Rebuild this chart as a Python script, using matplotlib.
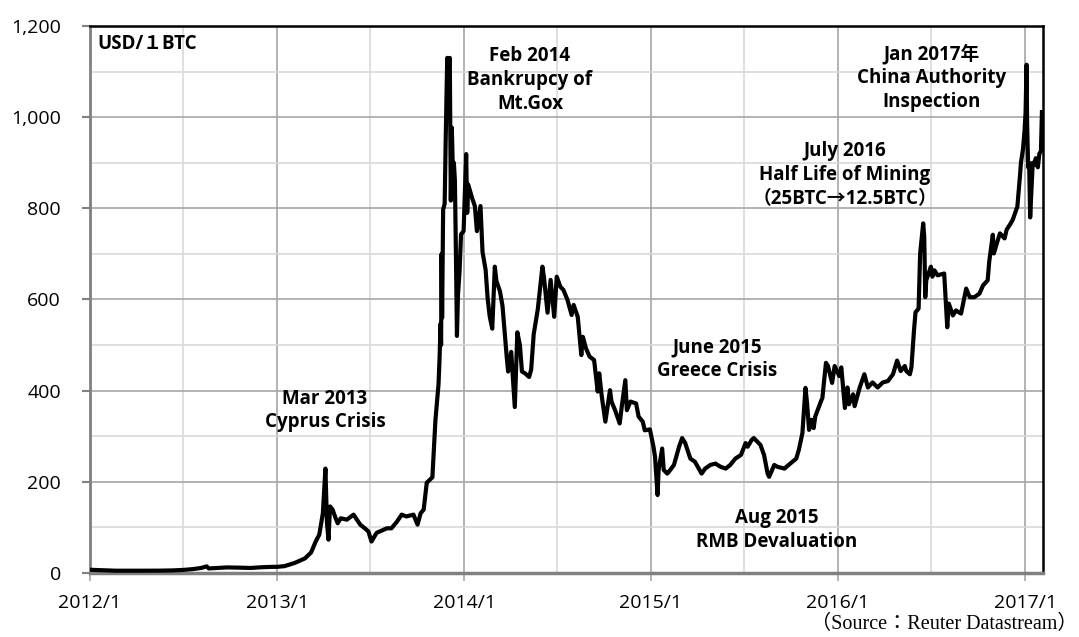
import numpy as np
import pandas as pd
import matplotlib
matplotlib.use('Agg')
import matplotlib.pyplot as plt
import matplotlib.dates as mdates
from matplotlib.ticker import MultipleLocator, FuncFormatter

# BTC price (USD)
dates = [
    '2012-01-01', '2012-01-15', '2012-02-01', '2012-02-20', '2012-03-15', '2012-04-15',
    '2012-05-15', '2012-06-10', '2012-07-01', '2012-07-20', '2012-08-05', '2012-08-16',
    '2012-08-20', '2012-09-05', '2012-09-25', '2012-10-15', '2012-11-10', '2012-11-30',
    '2012-12-20', '2013-01-01', '2013-01-15', '2013-02-04', '2013-02-24', '2013-03-08',
    '2013-03-17', '2013-03-24', '2013-03-31', '2013-04-03', '2013-04-05', '2013-04-08',
    '2013-04-11', '2013-04-14', '2013-04-19', '2013-04-25', '2013-04-29', '2013-05-05',
    '2013-05-17', '2013-05-30', '2013-06-12', '2013-06-21', '2013-06-28', '2013-07-04',
    '2013-07-14', '2013-07-20', '2013-08-03', '2013-08-12', '2013-08-23', '2013-09-01',
    '2013-09-10', '2013-09-24', '2013-10-02', '2013-10-08', '2013-10-14', '2013-10-20',
    '2013-10-31', '2013-11-06', '2013-11-12', '2013-11-14', '2013-11-16', '2013-11-17',
    '2013-11-18', '2013-11-19', '2013-11-21', '2013-11-24', '2013-11-26', '2013-11-29',
    '2013-12-01', '2013-12-04', '2013-12-06', '2013-12-08', '2013-12-10', '2013-12-12',
    '2013-12-14', '2013-12-16', '2013-12-18', '2013-12-20', '2013-12-23', '2013-12-26',
    '2013-12-31', '2014-01-05', '2014-01-07', '2014-01-09', '2014-01-17', '2014-01-22',
    '2014-01-26', '2014-02-02', '2014-02-06', '2014-02-12', '2014-02-16', '2014-02-20',
    '2014-02-25', '2014-03-02', '2014-03-05', '2014-03-12', '2014-03-17', '2014-03-25',
    '2014-03-28', '2014-04-03', '2014-04-10', '2014-04-15', '2014-04-20', '2014-04-24',
    '2014-04-30', '2014-05-08', '2014-05-12', '2014-05-17', '2014-05-25', '2014-06-03',
    '2014-06-06', '2014-06-13', '2014-06-19', '2014-06-26', '2014-07-01', '2014-07-08',
    '2014-07-14', '2014-07-22', '2014-07-30', '2014-08-03', '2014-08-11', '2014-08-18',
    '2014-08-21', '2014-08-27', '2014-09-03', '2014-09-12', '2014-09-19', '2014-09-22',
    '2014-09-27', '2014-10-04', '2014-10-13', '2014-10-16', '2014-10-23', '2014-11-01',
    '2014-11-05', '2014-11-12', '2014-11-15', '2014-11-22', '2014-12-03', '2014-12-08',
    '2014-12-16', '2014-12-20', '2014-12-30', '2015-01-06', '2015-01-09', '2015-01-14',
    '2015-01-16', '2015-01-23', '2015-01-26', '2015-02-02', '2015-02-05', '2015-02-15',
    '2015-02-25', '2015-03-03', '2015-03-09', '2015-03-19', '2015-03-28', '2015-04-10',
    '2015-04-17', '2015-04-27', '2015-05-07', '2015-05-17', '2015-05-27', '2015-06-05',
    '2015-06-15', '2015-06-26', '2015-07-05', '2015-07-09', '2015-07-17', '2015-07-21',
    '2015-08-03', '2015-08-10', '2015-08-17', '2015-08-20', '2015-08-30', '2015-09-05',
    '2015-09-19', '2015-09-27', '2015-10-12', '2015-10-17', '2015-10-24', '2015-10-30',
    '2015-11-02', '2015-11-06', '2015-11-11', '2015-11-15', '2015-11-18', '2015-11-29',
    '2015-12-02', '2015-12-09', '2015-12-13', '2015-12-21', '2015-12-26', '2016-01-04',
    '2016-01-08', '2016-01-15', '2016-01-20', '2016-01-23', '2016-01-31', '2016-02-03',
    '2016-02-13', '2016-02-22', '2016-02-29', '2016-03-09', '2016-03-19', '2016-03-29',
    '2016-04-08', '2016-04-18', '2016-04-26', '2016-05-03', '2016-05-11', '2016-05-14',
    '2016-05-21', '2016-05-24', '2016-05-29', '2016-06-01', '2016-06-07', '2016-06-10',
    '2016-06-16', '2016-06-18', '2016-06-20', '2016-06-22', '2016-07-01', '2016-07-04',
    '2016-07-08', '2016-07-14', '2016-07-27', '2016-08-02', '2016-08-05', '2016-08-13',
    '2016-08-19', '2016-08-29', '2016-09-08', '2016-09-15', '2016-09-24', '2016-10-04',
    '2016-10-11', '2016-10-20', '2016-10-23', '2016-10-30', '2016-11-01', '2016-11-09',
    '2016-11-13', '2016-11-22', '2016-11-26', '2016-12-04', '2016-12-08', '2016-12-17',
    '2016-12-22', '2016-12-24', '2016-12-28', '2016-12-31', '2017-01-02', '2017-01-04',
    '2017-01-05', '2017-01-07', '2017-01-09', '2017-01-11', '2017-01-13', '2017-01-16',
    '2017-01-19', '2017-01-22', '2017-01-26', '2017-01-29', '2017-02-01', '2017-02-03',
]
prices = [
    7, 6.5, 6, 5, 4.9, 5,
    5.1, 5.6, 6.7, 8.5, 11, 14.5,
    10, 11, 12.2, 11.8, 11, 12.5,
    13.4, 13.5, 15, 22, 32, 45,
    69, 84, 131, 189, 229, 110,
    73, 146, 139, 120, 109, 120,
    117, 128, 106, 98, 91, 69,
    88, 91, 98, 98, 113, 128,
    124, 128, 106, 131, 139, 198,
    210, 336, 414, 470, 547, 500,
    700, 560, 797, 810, 950, 1130,
    1100, 1130, 817, 977, 884, 900,
    860, 700, 520, 610, 660, 743,
    750, 919, 790, 852, 821, 805,
    750, 805, 704, 665, 602, 563,
    536, 672, 641, 618, 586, 477,
    442, 485, 364, 528, 500, 442,
    438, 430, 446, 524, 579, 672,
    649, 571, 643, 562, 650, 628,
    621, 599, 566, 588, 562, 478,
    518, 493, 475, 467, 398, 438,
    387, 332, 401, 376, 357, 328,
    365, 423, 357, 376, 372, 343,
    332, 313, 315, 277, 255, 171,
    226, 273, 226, 218, 222, 237,
    277, 296, 285, 251, 244, 218,
    229, 237, 240, 233, 229, 237,
    251, 259, 285, 277, 292, 296,
    281, 259, 218, 211, 237, 233,
    229, 237, 251, 270, 307, 406,
    373, 314, 336, 318, 343, 376,
    384, 461, 454, 417, 454, 432,
    451, 362, 407, 370, 392, 366,
    407, 436, 407, 418, 407, 418,
    421, 436, 466, 443, 454, 443,
    436, 451, 532, 572, 580, 701,
    767, 738, 605, 642, 672, 650,
    664, 653, 657, 539, 591, 565,
    576, 569, 624, 605, 605, 613,
    631, 642, 683, 742, 701, 731,
    745, 734, 753, 767, 775, 804,
    870, 900, 930, 970, 1010, 1115,
    990, 890, 900, 780, 830, 900,
    895, 910, 890, 920, 925, 1011,
]

x = pd.to_datetime(dates)
y = np.array(prices)

fig = plt.figure(figsize=(10.79, 6.37), dpi=100)
ax = fig.add_axes([0.0834, 0.1005, 0.8832, 0.8587])

ax.plot(x, y, color='black', lw=3, solid_joinstyle='round', zorder=3)

ax.set_xlim(pd.Timestamp('2012-01-01'), pd.Timestamp('2017-02-05'))
ax.set_ylim(0, 1200)

ax.xaxis.set_major_locator(mdates.YearLocator())
ax.xaxis.set_minor_locator(mdates.MonthLocator(bymonth=7))
ax.xaxis.set_major_formatter(FuncFormatter(lambda v, p: '%d/1' % mdates.num2date(v).year))
ax.yaxis.set_major_locator(MultipleLocator(200))
ax.yaxis.set_minor_locator(MultipleLocator(100))
ax.yaxis.set_major_formatter(FuncFormatter(lambda v, p: '{:,}'.format(int(v))))

ax.set_axisbelow(True)
ax.grid(which='major', color='#a6a6a6', lw=1.2)
ax.grid(which='minor', color='#d9d9d9', lw=1.2)

ax.tick_params(axis='y', which='major', length=6, width=1.5, color='#808080', pad=15,
               labelsize=14)
ax.tick_params(axis='x', which='major', length=6, width=1.2, color='#a6a6a6', pad=9,
               labelsize=14)
ax.tick_params(which='minor', length=0)
for lab in ax.get_xticklabels() + ax.get_yticklabels():
    lab.set_fontfamily('Open Sans')

ax.spines['left'].set_color('#808080')
ax.spines['left'].set_linewidth(2)
ax.spines['bottom'].set_color('#808080')
ax.spines['bottom'].set_linewidth(2.5)
ax.spines['top'].set_linewidth(1.8)
ax.spines['right'].set_linewidth(1.8)

fam = ['Open Sans', 'Noto Sans CJK JP']
kw = dict(transform=ax.transAxes, ha='center', va='center', fontsize=13.5,
          fontweight='bold', family=fam, linespacing=1.25, zorder=4)
ax.text(0.0073, 0.967, 'USD/１BTC', transform=ax.transAxes, ha='left', va='center',
        fontsize=13.5, fontweight='bold', family=fam)
ax.text(0.2466, 0.297, 'Mar 2013\nCyprus Crisis', **kw)
ax.text(0.4617, 0.901, 'Feb 2014\nBankrupcy of\nMt.Gox', **kw)
ax.text(0.658, 0.391, 'June 2015\nGreece Crisis', **kw)
ax.text(0.721, 0.0786, 'Aug 2015\nRMB Devaluation', **kw)
ax.text(0.792, 0.7276, 'July 2016\nHalf Life of Mining\n（25BTC→12.5BTC）', **kw)
ax.text(0.8835, 0.905, 'Jan 2017年\nChina Authority\nInspection', **kw)

fig.text(0.999, 0.019, '（Source：Reuter Datastream）', ha='right', va='center',
         fontsize=14.5, family=['Liberation Serif', 'Noto Sans CJK JP'])

fig.savefig('out.png', dpi=100)
